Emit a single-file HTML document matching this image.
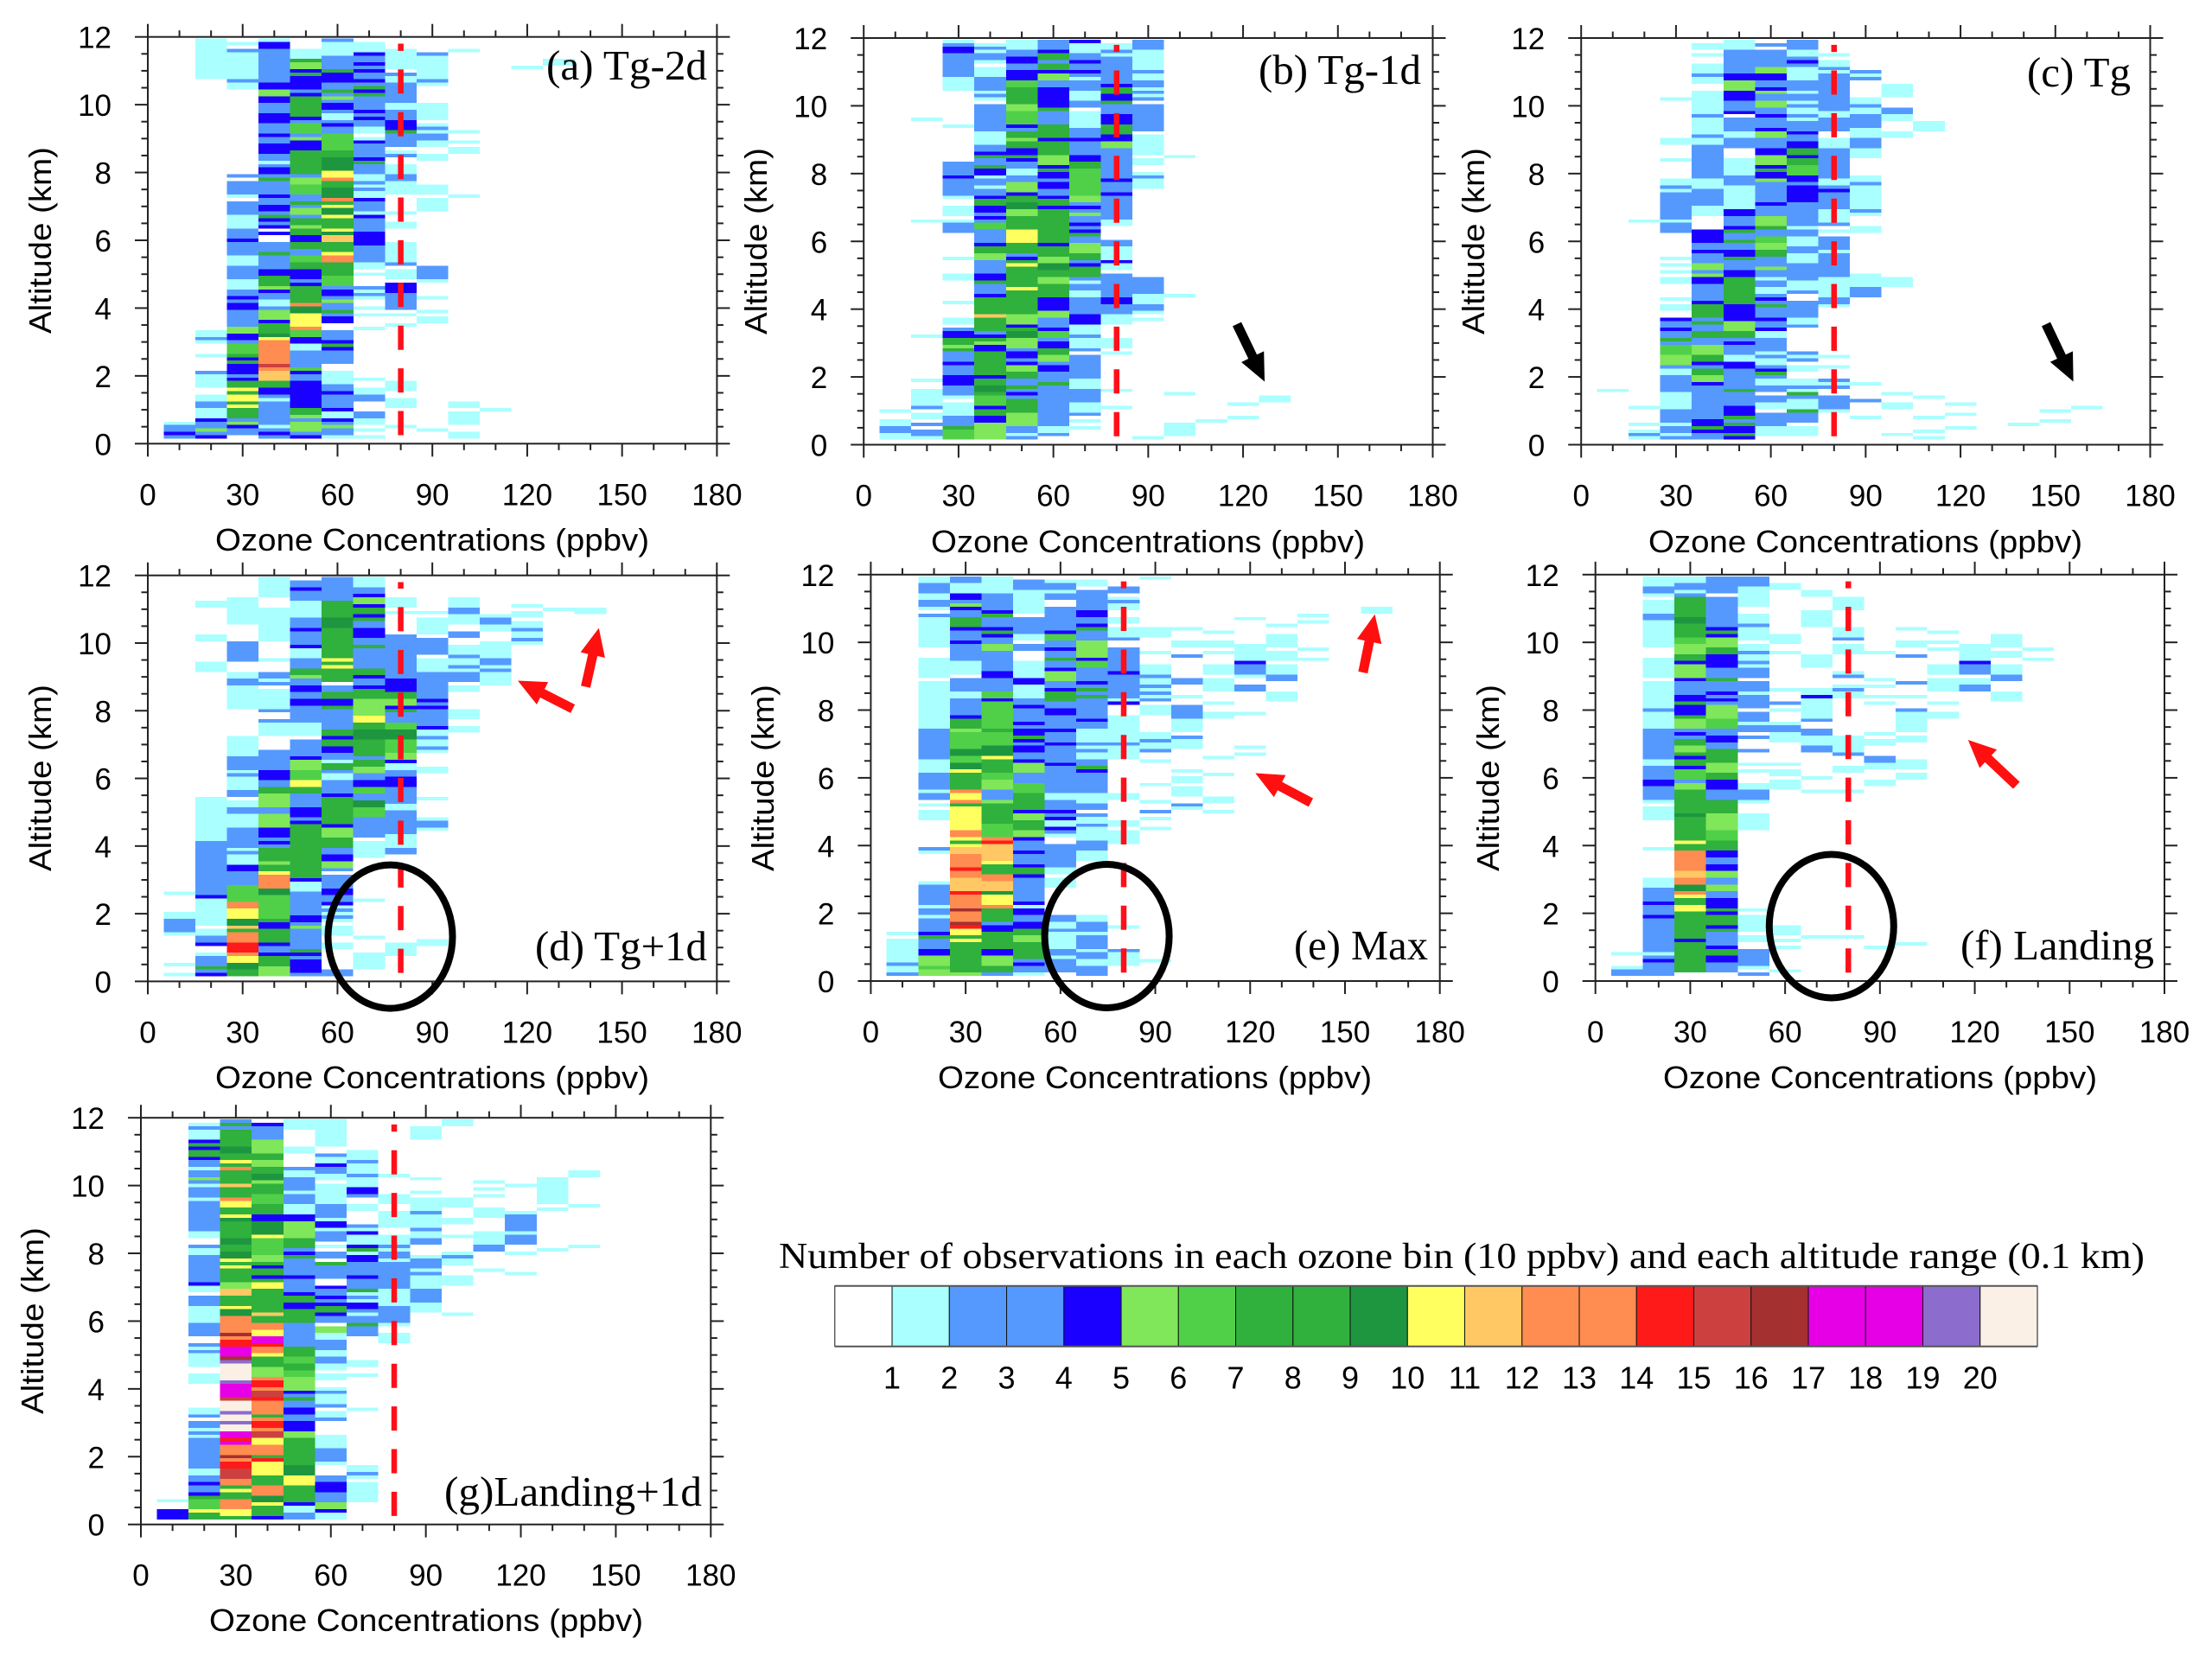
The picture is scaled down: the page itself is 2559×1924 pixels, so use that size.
<!DOCTYPE html>
<html lang="en">
<head>
<meta charset="utf-8">
<title>Ozone observations by altitude</title>
<style>
html,body{margin:0;padding:0;background:#fff;}
svg{display:block;}
.tick-label,.axis-title{font-family:"Liberation Sans",sans-serif;fill:#000;}
.serif{font-family:"Liberation Serif",serif;fill:#000;}
</style>
</head>
<body>
<svg id="figure" xmlns="http://www.w3.org/2000/svg" width="2559" height="1924" viewBox="0 0 2559 1924">
<rect width="2559" height="1924" fill="#fff"/>
<g id="panel-a"></g>
<g id="panel-b"></g>
<g id="panel-c"></g>
<g id="panel-d"></g>
<g id="panel-e"></g>
<g id="panel-f"></g>
<g id="panel-g"></g>

<g class="axis-title" font-size="36">
<text x="500" y="637" text-anchor="middle" textLength="502" lengthAdjust="spacingAndGlyphs">Ozone Concentrations (ppbv)</text>
<text x="1328" y="639" text-anchor="middle" textLength="502" lengthAdjust="spacingAndGlyphs">Ozone Concentrations (ppbv)</text>
<text x="2158" y="639" text-anchor="middle" textLength="502" lengthAdjust="spacingAndGlyphs">Ozone Concentrations (ppbv)</text>
<text x="500" y="1259" text-anchor="middle" textLength="502" lengthAdjust="spacingAndGlyphs">Ozone Concentrations (ppbv)</text>
<text x="1336" y="1259" text-anchor="middle" textLength="502" lengthAdjust="spacingAndGlyphs">Ozone Concentrations (ppbv)</text>
<text x="2175" y="1259" text-anchor="middle" textLength="502" lengthAdjust="spacingAndGlyphs">Ozone Concentrations (ppbv)</text>
<text x="493" y="1887" text-anchor="middle" textLength="502" lengthAdjust="spacingAndGlyphs">Ozone Concentrations (ppbv)</text>
<text transform="translate(59,278) rotate(-90)" text-anchor="middle" textLength="216" lengthAdjust="spacingAndGlyphs">Altitude (km)</text>
<text transform="translate(887,279) rotate(-90)" text-anchor="middle" textLength="216" lengthAdjust="spacingAndGlyphs">Altitude (km)</text>
<text transform="translate(1717,279) rotate(-90)" text-anchor="middle" textLength="216" lengthAdjust="spacingAndGlyphs">Altitude (km)</text>
<text transform="translate(59,900) rotate(-90)" text-anchor="middle" textLength="216" lengthAdjust="spacingAndGlyphs">Altitude (km)</text>
<text transform="translate(895,900) rotate(-90)" text-anchor="middle" textLength="216" lengthAdjust="spacingAndGlyphs">Altitude (km)</text>
<text transform="translate(1734,900) rotate(-90)" text-anchor="middle" textLength="216" lengthAdjust="spacingAndGlyphs">Altitude (km)</text>
<text transform="translate(50,1528) rotate(-90)" text-anchor="middle" textLength="216" lengthAdjust="spacingAndGlyphs">Altitude (km)</text>
</g>

<g class="serif" font-size="49">
<text x="632" y="92" textLength="186" lengthAdjust="spacingAndGlyphs">(a) Tg-2d</text>
<text x="1456" y="97" textLength="188" lengthAdjust="spacingAndGlyphs">(b) Tg-1d</text>
<text x="2345" y="100" textLength="120" lengthAdjust="spacingAndGlyphs">(c) Tg</text>
<text x="619" y="1111" textLength="199" lengthAdjust="spacingAndGlyphs">(d) Tg+1d</text>
<text x="1497" y="1110" textLength="155" lengthAdjust="spacingAndGlyphs">(e) Max</text>
<text x="2268" y="1110" textLength="224" lengthAdjust="spacingAndGlyphs">(f) Landing</text>
<text x="514" y="1742" textLength="298" lengthAdjust="spacingAndGlyphs">(g)Landing+1d</text>
</g>

<g fill="none" stroke="#000" stroke-width="8">
<ellipse cx="451.5" cy="1083.6" rx="72" ry="83"/>
<ellipse cx="1280.6" cy="1083" rx="72" ry="83"/>
<ellipse cx="2118.8" cy="1071.5" rx="72" ry="83"/>
</g>
<g id="arrows"></g>

<g id="legend">
<text class="serif" x="901" y="1467" font-size="42" textLength="1580" lengthAdjust="spacingAndGlyphs">Number of observations in each ozone bin (10 ppbv) and each altitude range (0.1 km)</text>
</g>
</svg>

<script>
/* Heatmap data: each column is [topAlt, count, alt, count, alt, ... bottomAlt], altitude km top-down; count per 0.1 km bin */
const a10=[.7,1,.6,2,.4,4,.3,2,.2];
const a20=[12,1,10.8,0,3.4,1,3.2,2,3.1,1,3.0,0,2.7,1,2.6,0,2.2,2,2.1,1,1.7,0,1.5,1,1.3,2,1.1,1,.8,4,.7,2,.5,5,.4,2,.3,4,.2];
const a30=[11.9,1,11.8,0,11.7,2,11.6,1,10.8,2,10.7,1,10.5,0,8.0,2,7.9,0,7.8,2,7.4,1,7.3,0,7.2,2,6.8,1,6.4,2,6.1,4,6.0,2,5.6,1,5.3,2,4.9,1,4.6,2,4.4,4,4.3,2,4.2,4,4.0,2,3.5,5,3.3,4,3.1,2,3.0,6,2.7,7,2.6,4,2.5,7,2.4,4,2.1,2,2.0,4,1.9,7,1.7,10,1.6,7,1.5,10,1.3,7,1.2,10,1.1,7,.8,2,.7,5,.6,4,.5,2,.3];
const a40=[12,1,11.9,4,11.7,2,10.7,4,10.5,5,10.3,4,10.1,2,9.8,4,9.5,2,9.2,4,9.1,2,8.9,4,8.6,2,8.4,1,8.3,2,8.2,4,8.0,2,7.9,7,7.8,2,7.4,4,7.3,2,7.1,4,6.9,2,6.8,7,6.7,4,6.6,2,6.5,4,6.4,0,6.3,4,6.2,0,6.0,2,5.7,7,5.6,2,5.2,4,5.0,7,4.7,5,4.6,4,4.5,2,4.3,1,4.1,2,4.0,5,3.7,4,3.6,7,3.3,9,3.2,10,3.1,12,2.9,13,2.4,15,2.3,13,2.2,11,1.9,7,1.7,4,1.5,2,1.4,1,1.3,2,.6,1,.5,2,.4,4,.3,2,.2];
const a50=[11.7,1,11.4,7,11.3,5,11.1,4,11.0,7,10.9,4,10.5,2,10.4,4,10.3,7,9.7,4,9.6,2,9.5,6,9.2,2,9.1,5,9.0,4,8.7,7,8.0,2,7.9,5,7.7,6,7.4,2,7.2,7,7.1,2,7.0,5,6.8,2,6.7,7,6.5,5,6.4,7,6.2,4,6.0,7,5.8,2,5.6,6,5.4,7,5.2,4,4.9,2,4.8,4,4.7,7,4.2,12,4.1,9,3.9,10,3.5,13,3.4,6,3.2,4,3.0,1,2.8,2,2.3,6,2.2,4,2.1,2,1.9,4,1.1,7,.9,5,.8,2,.7,5,.4,2,.3,4,.2];
const a60=[12,2,11.9,1,11.5,2,11.1,7,11.0,4,10.7,2,10.5,7,10.4,2,10.3,5,10.2,2,10.1,4,9.9,2,9.8,1,9.6,2,9.5,4,9.4,2,9.2,6,8.7,7,8.5,9,8.1,10,7.9,12,7.8,7,7.6,9,7.3,13,7.2,7,7.1,10,7.0,9,6.8,10,6.7,7,6.4,10,6.3,9,6.2,11,6.0,7,5.7,10,5.6,13,5.4,7,5.0,6,4.7,2,4.6,4,4.4,2,4.3,5,4.2,2,4.0,7,3.9,2,3.8,4,3.6,0,3.4,2,3.1,4,3.0,7,2.9,4,2.8,2,2.4,0,2.2,1,1.8,2,1.6,4,1.5,2,1.1,4,1.0,1,.8,4,.7,2,.6,5,.5,2,.3,1,.2];
const a70=[11.9,1,11.6,4,11.5,2,11.3,4,11.2,2,11.1,4,11.0,2,10.8,4,10.7,2,10.6,7,10.5,4,10.4,7,10.3,2,9.9,4,9.8,2,9.7,4,9.6,2,9.4,1,9.2,0,9.1,1,9.0,4,8.9,2,8.5,4,8.4,7,8.3,2,8.0,1,7.8,2,7.7,1,7.6,2,7.5,1,7.3,4,7.2,2,6.9,1,6.8,4,6.7,2,6.3,4,5.9,2,5.4,1,5.2,0,5.1,1,5.0,0,4.7,2,4.6,1,4.5,2,4.4,1,4.3,0,4.1,1,4.0,0,3.9,1,3.8,0,3.5,1,3.4,0,2.0,1,1.9,0,1.7,1,1.5,2,1.3,0,1.0,2,.8,1,.6,0,.5,1,.4,0,.3,1,.2];
const a80=[11.7,1,11.1,0,11.0,2,10.9,1,10.7,2,10.1,1,9.9,2,9.6,4,9.3,7,9.2,2,8.8,0,8.7,1,8.6,2,8.5,0,8.3,1,8.0,2,7.8,1,7.4,0,6.9,1,6.8,0,6.6,1,6.4,0,6.0,1,5.6,1,5.4,2,5.3,0,5.2,1,4.9,0,4.8,4,4.5,2,4.0,0,3.9,1,3.8,0,3.6,1,3.5,0,1.9,1,1.6,0,1.4,1,1.1,0,.6,1,.5];
const a90=[11.6,2,11.5,1,10.8,2,10.7,1,10.6,0,10.1,1,9.6,0,9.5,1,9.4,2,9.3,1,9.2,2,9.0,1,8.8,0,8.6,1,8.4,0,7.7,1,7.4,0,7.3,1,6.9,0,5.3,2,4.9,1,4.8,0,4.4,1,4.3,0,4.0,1,3.9,0,3.8,1,3.6,0,.5,1,.4];
const a100=[11.7,1,11.6,0,9.3,1,9.2,0,9.0,1,8.9,0,8.8,1,8.6,0,7.4,1,7.3,0,1.3,1,1.1,0,1.0,1,.6,0,.4,1,.2];
const a110=[1.1,1,1.0];
const a120=[11.2,1,11.1];
const a130=[11.4,1,11.2];

const b10=[1.1,1,1.0,0,.8,1,.6,2,.4,1,.2];
const b20=[9.7,1,9.6,0,6.7,1,6.6,0,3.3,1,3.2,0,2.0,1,1.9,0,1.7,1,1.2,2,1.1,0,1.0,1,.8,0,.7,2,.6,0,.5,2,.3,1,.2];
const b30=[12,1,11.9,2,11.8,4,11.6,2,10.9,1,10.5,0,9.5,1,9.4,0,8.4,2,8.0,4,7.9,2,7.4,1,7.3,0,7.1,1,6.8,0,6.7,1,6.6,2,6.3,0,5.6,1,5.5,0,5.1,1,4.9,0,4.3,1,4.2,0,3.8,1,3.6,0,3.5,2,3.4,4,3.2,7,3.0,5,2.9,7,2.8,2,2.5,4,2.4,2,2.1,4,1.8,2,1.5,1,1.4,0,1.3,1,.9,2,.6,7,.5,6,.2];
const b40=[11.9,1,11.8,2,11.7,1,11.6,2,11.4,1,11.3,0,11.2,1,10.9,2,10.5,1,10.4,2,10.3,1,10.2,0,10.1,2,9.3,1,8.9,2,8.7,4,8.6,7,8.5,2,8.3,7,8.2,4,8.0,1,7.9,2,7.7,1,7.6,2,7.4,4,7.3,7,7.1,4,6.9,2,6.8,4,6.7,2,6.6,6,6.4,2,6.0,4,5.9,7,5.7,5,5.5,2,5.1,4,4.9,7,4.8,2,4.5,4,4.4,7,3.9,11,3.8,7,3.4,2,3.3,4,3.2,7,3.1,5,3.0,4,2.8,7,2.1,4,2.0,7,1.8,9,1.6,7,1.5,6,1.2,4,1.1,7,.9,4,.7,5,.2];
const b50=[12,1,11.7,2,11.5,4,11.3,2,11.1,4,10.8,6,10.6,7,10.1,5,9.9,6,9.5,4,9.4,2,9.3,7,9.1,5,9.0,7,8.8,4,8.6,7,8.5,4,8.4,2,8.2,1,8.0,2,7.8,5,7.5,4,7.4,7,7.2,9,7.0,5,6.8,7,6.4,10,6.0,7,5.7,2,5.6,4,5.5,7,5.4,10,5.3,7,4.7,10,4.6,7,3.9,5,3.6,4,3.5,7,3.4,9,3.2,5,2.9,2,2.8,4,2.6,2,2.5,4,2.4,5,2.2,7,2.0,2,1.8,7,1.7,2,1.6,4,1.5,2,1.4,7,1.0,5,.6,2,.4,1,.3,2,.2];
const b60=[12,2,11.7,4,11.6,7,11.4,2,11.3,7,11.1,4,11.0,5,10.8,2,10.6,4,10.0,7,9.9,2,9.5,7,9.1,4,9.0,7,8.6,5,8.3,4,8.2,7,8.1,4,7.9,2,7.8,4,7.6,2,7.4,4,7.3,7,7.1,4,7.0,7,6.0,4,5.9,7,5.6,5,5.4,9,5.2,7,5.0,5,4.8,7,4.4,4,4.0,5,3.8,2,3.5,4,3.4,6,3.2,2,3.1,4,2.9,7,2.7,5,2.5,2,2.4,4,2.2,2,1.9,7,1.8,2,.6,1,.4,2,.3];
const b70=[12,4,11.9,1,11.6,2,11.4,4,11.3,2,11.1,4,11.0,2,10.9,1,10.8,2,10.5,1,10.2,2,10.0,0,9.9,1,9.4,2,9.1,4,9.0,2,8.6,4,8.4,7,8.2,6,7.4,5,7.2,2,7.1,4,7.0,2,6.9,5,6.8,2,6.6,4,6.5,2,6.4,4,6.3,7,6.2,2,6.0,5,5.7,7,5.5,2,5.4,4,5.3,7,5.0,2,4.9,1,4.8,2,4.6,1,4.4,2,3.9,4,3.6,1,3.3,2,3.2,1,2.9,2,2.8,0,2.7,2,2.0,1,1.7,2,1.3,1,1.0,2,.9,0,.8,1,.7,0,.6,1,.5];
const b80=[11.9,1,11.7,2,11.6,1,11.5,2,10.7,4,10.6,7,10.4,4,10.2,7,10.1,2,9.8,4,9.5,7,9.2,4,9.0,5,8.8,2,7.9,4,7.8,2,7.5,4,7.4,2,6.7,1,6.5,0,6.1,2,5.9,1,5.5,4,5.4,1,5.2,0,5.1,2,4.4,4,4.2,2,3.9,1,3.6,0,3.2,1,2.9,0,2.8,1,2.7,0,1.7,1,1.6,0,1.2,1,1.1];
const b90=[12,2,11.7,1,11.1,2,11.0,1,10.8,2,10.6,1,10.5,2,10.4,1,10.3,2,10.2,0,10.1,2,9.3,0,9.2,1,8.6,0,8.5,1,8.3,0,8.1,1,8.0,2,7.9,1,7.6,0,5.0,2,4.5,1,4.2,2,4.0,1,3.9,0,3.8,1,3.7,0,.3,1,.2];
const b100=[8.6,1,8.5,0,4.5,1,4.4,0,1.6,1,1.5,0,.7,1,.3];
const b110=[.8,1,.7];
const b120=[1.3,1,1.2,0,.9,1,.8];
const b130=[1.5,1,1.3];

const c10=[1.7,1,1.6];
const c20=[6.7,1,6.6,0,1.2,1,1.1,0,.7,1,.6,0,.5,1,.4,2,.3,1,.2];
const c30=[10.3,1,10.2,0,9.1,1,8.9,0,8.5,1,8.4,0,7.9,1,7.7,2,7.6,1,7.5,2,6.7,1,6.6,2,6.3,0,5.6,1,5.5,0,5.4,1,5.3,0,5.2,1,5.1,0,5.0,1,4.8,0,4.4,1,4.3,0,4.2,1,4.0,0,3.8,4,3.7,2,3.5,4,3.4,2,3.2,7,3.1,2,3.0,6,2.7,5,2.4,2,2.3,1,2.1,2,1.6,1,1.1,2,.7,1,.6,2,.4,1,.3,2,.2];
const c40=[11.9,1,11.7,0,11.6,1,11.5,0,11.3,1,11.0,2,10.9,1,10.7,0,10.5,1,9.8,2,9.7,1,9.2,2,9.1,1,8.9,2,7.9,1,7.6,2,7.1,1,6.8,0,6.4,4,6.0,2,5.8,4,5.7,2,5.4,5,5.2,2,5.1,5,5.0,4,4.8,2,4.3,4,4.2,7,3.8,2,3.7,7,3.6,2,3.4,7,3.2,2,3.0,5,2.7,7,2.5,4,2.4,2,2.3,7,2.1,5,1.9,4,1.8,2,.8,4,.6,7,.5,4,.4,2,.2];
const c50=[12,1,11.7,2,11.0,4,10.8,5,10.5,4,10.2,2,9.9,4,9.8,0,9.7,2,9.3,1,9.1,2,8.8,0,8.5,1,8.0,2,7.7,1,7.0,4,6.8,2,6.5,4,6.4,7,6.3,2,6.1,7,6.0,2,5.8,4,5.6,7,5.5,2,5.2,4,5.0,7,4.2,4,3.7,5,3.4,7,3.2,2,3.1,4,3.0,2,2.7,1,2.5,4,2.3,2,1.7,7,1.6,2,1.2,4,.9,7,.8,2,.7,7,.6,4,.4,7,.3,4,.2];
const c60=[11.9,2,11.8,0,11.7,2,11.2,5,11.0,4,10.8,2,10.6,4,10.5,5,10.4,2,10.2,5,10.0,2,9.8,4,9.7,2,9.4,4,9.3,5,9.1,2,8.8,4,8.6,5,8.3,4,8.2,7,8.1,4,7.9,5,7.8,2,7.2,4,7.1,2,6.8,5,6.5,7,6.4,2,6.2,6,6.0,5,5.8,7,5.6,2,5.3,5,5.2,2,5.0,1,4.9,2,4.7,1,4.5,2,4.4,4,4.3,2,4.2,7,4.1,2,3.8,4,3.7,2,3.5,4,3.4,1,3.2,2,2.8,1,2.7,2,2.6,1,2.4,2,2.3,4,2.2,7,2.1,2,2.0,1,1.8,2,1.6,0,1.5,2,1.3,1,1.1,0,1.0,2,.6,1,.3];
const c70=[12,2,11.7,1,11.5,2,11.4,4,11.3,2,11.2,1,10.8,2,10.5,1,10.4,2,10.2,1,10.1,2,10.0,1,9.8,2,9.7,1,9.6,2,9.3,4,9.2,2,9.0,4,8.8,7,8.6,4,8.5,7,8.3,6,8.0,4,7.8,2,7.7,4,7.2,2,6.5,1,6.4,2,6.2,1,5.9,2,5.7,1,5.4,2,4.9,1,4.6,2,4.5,0,4.3,2,3.8,1,3.6,2,3.5,0,2.8,2,2.7,1,2.6,2,2.5,0,2.4,1,2.2,0,2.0,1,1.8,2,1.7,1,1.6,7,1.5,2,1.4,1,1.1,7,1.0,2,.7,0,.6,1,.3];
const c80=[11.6,1,11.5,0,11.4,1,11.2,2,11.1,1,11.0,2,9.9,1,9.7,2,9.3,0,9.1,1,8.8,2,7.9,1,7.7,2,7.6,4,7.5,2,7.0,1,6.6,2,6.5,0,6.4,1,6.3,0,6.2,2,5.8,1,5.7,2,5.0,1,4.4,2,4.2,1,4.1,0,2.7,1,2.6,0,2.4,1,2.3,0,2.0,2,1.9,1,1.8,2,1.7,0,1.5,2,1.1,1,1.0];
const c90=[11.1,2,11.0,1,10.9,2,10.8,0,10.3,1,10.1,2,10.0,1,9.8,2,9.4,1,9.1,2,8.8,1,8.5,0,8.0,1,7.8,2,7.7,1,7.0,2,6.9,1,6.8,0,6.5,1,6.3,0,5.1,1,4.7,2,4.4,0,1.9,1,1.8,0,1.4,2,1.3,0,.9,1,.8];
const c100=[10.7,1,10.3,0,10.0,2,9.8,1,9.6,0,9.3,1,9.1,0,5.0,1,4.7,0,1.6,1,1.5,0,1.3,1,1.1,0,.4,1,.3];
const c110=[9.6,1,9.3,0,1.5,1,1.4,0,.9,1,.8,0,.5,1,.4,0,.3,1,.2];
const c120=[1.3,1,1.2,0,1.0,1,.9,0,.6,1,.5];
const c140=[.7,1,.6];
const c150=[1.1,1,1.0,0,.8,1,.7];
const c160=[1.2,1,1.1];

const d10=[2.7,1,2.6,0,2.1,1,1.9,2,1.5,1,1.4,0,.6,1,.5,0,.3,1,.2];
const d20=[11.3,1,11.1,0,10.3,1,10.1,0,9.5,1,9.2,0,5.5,1,4.2,2,2.6,4,2.5,1,1.7,0,1.6,1,1.4,2,1.2,4,1.1,0,.9,1,.8,2,.5,7,.4,2,.3,4,.2];
const d30=[11.4,1,10.6,0,10.1,2,9.5,0,9.2,1,9.0,2,8.8,1,8.1,0,7.3,1,6.7,2,6.3,1,6.2,2,6.1,1,5.7,2,5.5,0,5.4,1,5.2,2,5.0,1,4.6,2,4.0,1,3.9,2,3.8,1,3.5,4,3.3,2,2.9,6,2.4,13,2.2,10,1.9,9,1.7,11,1.6,7,1.5,13,1.2,14,.9,13,.8,10,.6,9,.4,7,.2];
const d40=[12,1,11.4,0,11.1,1,10.1,0,9.6,1,9.5,0,9.2,2,9.0,1,8.9,2,8.8,0,8.7,1,8.1,2,8.0,0,7.8,2,7.7,1,7.3,0,6.9,2,6.3,4,6.0,2,5.8,7,5.6,5,5.2,2,5.0,5,4.6,4,4.3,2,4.2,4,4.1,2,4.0,7,3.6,5,3.5,7,3.3,10,3.2,13,2.8,9,2.6,6,1.9,7,1.8,4,1.6,7,1.2,4,1.1,2,.9,4,.8,7,.5,5,.2];
const d50=[11.9,2,11.7,4,11.6,2,11.3,1,10.8,2,10.5,4,10.4,2,10.0,4,9.9,1,9.6,2,9.3,7,9.1,5,9.0,2,8.8,4,8.6,2,8.4,4,8.2,2,7.7,1,7.3,0,7.2,2,6.7,4,6.6,5,6.3,6,6.0,10,5.8,7,5.6,2,5.2,4,4.9,2,4.8,4,4.7,7,3.1,4,3.0,1,2.7,2,2.0,4,1.8,2,1.7,5,1.6,2,1.0,7,.9,4,.8,2,.7,4,.3,2,.2];
const d60=[12,2,11.3,7,10.8,9,10.5,7,9.6,10,9.5,7,9.4,10,9.3,7,8.9,0,8.8,2,8.6,7,8.4,4,8.2,7,8.1,2,7.5,7,7.3,4,7.2,7,7.0,4,6.8,2,6.6,1,6.5,7,6.3,2,6.2,1,6.0,2,5.6,4,5.5,7,4.7,4,4.6,5,4.3,7,4.0,2,3.8,4,3.6,5,3.4,2,3.3,0,3.2,2,2.8,4,2.6,2,2.4,4,2.3,1,2.2,2,2.1,1,2.0,2,1.9,1,1.8,0,1.7,1,1.4,0,1.2,1,1.0,0,.4,2,.2];
const d70=[12,1,11.7,2,11.5,4,11.4,5,11.2,4,11.1,7,10.9,4,10.8,7,10.7,2,10.5,4,10.2,2,10.0,7,9.9,2,9.3,7,9.1,4,9.0,2,8.8,4,8.7,7,8.4,5,7.9,10,7.7,7,7.5,9,7.2,7,6.7,2,6.6,7,6.4,5,6.2,2,6.0,4,5.8,6,5.6,2,5.4,9,5.2,6,4.9,2,4.3,0,4.2,1,3.7,0,2.5,1,2.4,0,1.4,1,1.3,0,.9,1,.4];
const d80=[11.4,1,11.1,0,11.0,1,10.9,0,10.3,2,9.0,4,8.6,7,8.4,5,8.2,4,8.1,7,8.0,2,7.7,6,7.5,9,7.2,6,6.8,5,6.6,4,6.5,1,6.3,2,6.1,4,5.8,2,5.3,1,5.1,2,4.4,1,4.0,2,3.8,0,1.2,1,.8];
const d90=[11.0,1,10.9,0,10.8,1,10.3,0,10.2,2,9.7,0,9.6,1,9.2,2,8.4,4,8.3,2,8.2,4,8.1,2,7.6,4,7.5,1,7.3,2,7.2,1,7.0,2,6.9,1,6.8,0,6.4,1,6.2,0,5.5,1,5.4,0,4.9,1,4.8,2,4.6,1,4.5,0,1.3,1,1.1];
const d100=[11.4,1,11.1,2,10.9,1,10.6,0,10.4,2,10.2,0,10.0,1,9.7,2,9.6,1,9.4,2,9.3,1,9.2,2,8.9,0,8.8,1,8.6,0,8.1,1,7.8,0,7.6,1,7.4];
const d110=[10.9,1,10.8,2,10.6,1,10.4,0,10.1,1,9.6,2,9.4,1,9.3,2,9.2,1,8.8];
const d120=[11.2,1,11.1,0,11.0,1,10.8,0,10.7,1,10.5,2,10.4,1,10.2,2,10.1,1,10.0];
const d130=[11.1,1,11.0];
const d140=[11.1,1,10.9];

const e10=[1.5,1,1.4,0,1.3,1,.6,2,.5,1,.3,2,.2];
const e20=[12,1,11.8,2,11.5,1,11.3,2,11.1,1,11.0,0,10.9,2,10.8,1,9.9,0,9.6,1,9.0,0,8.9,1,7.5,2,6.6,1,6.2,2,5.7,1,5.6,2,5.4,0,5.3,1,5.2,0,5.1,1,4.8,0,4.0,2,3.9,1,3.8,0,3.0,1,2.9,2,2.3,1,2.2,2,2.0,1,1.9,2,1.5,4,1.4,7,1.3,2,1.0,4,.8,5,.5,6,.4,5,.2];
const e30=[12,2,11.8,1,11.5,4,11.3,2,11.2,5,11.1,4,11.0,2,10.8,7,10.5,4,10.4,2,10.1,4,10.0,2,9.5,1,9.1,0,9.0,2,8.6,1,8.4,2,7.9,4,7.8,7,7.5,5,7.4,6,6.9,9,6.7,6,6.5,9,6.3,10,6.2,7,5.7,13,5.6,10,5.4,13,5.3,7,5.2,10,4.5,13,4.3,10,4.2,7,4.1,10,4.0,11,3.8,13,3.4,14,3.3,13,3.1,11,2.7,14,2.6,13,2.2,16,2.1,13,1.8,16,1.7,14,1.6,10,1.4,7,1.3,10,1.2,7,.3,5,.2];
const e40=[12,1,11.5,2,11.0,4,10.9,7,10.8,2,10.5,4,10.4,7,10.3,4,10.2,2,10.0,5,9.8,2,9.2,4,9.0,2,8.6,6,8.4,4,8.3,6,7.5,7,7.4,6,7.0,9,6.7,10,6.6,7,6.2,6,6.0,5,5.7,2,5.4,5,5.3,7,4.7,6,4.3,13,4.2,14,4.1,11,3.6,10,3.5,7,3.2,13,3.0,11,2.7,9,2.6,10,2.3,13,2.2,7,1.8,2,1.7,4,1.5,7,1.0,4,.8,5,.5,7,.3,2,.2];
const e50=[11.9,2,11.6,1,10.9,0,10.8,2,10.3,1,10.1,0,10.0,2,9.8,0,9.5,1,9.0,4,8.8,1,8.4,2,8.2,4,8.1,2,7.7,4,7.6,2,7.5,4,7.3,7,7.2,4,7.1,2,7.0,4,6.8,2,6.6,4,6.5,5,6.2,2,5.9,6,5.6,7,5.1,4,5.0,5,4.8,7,4.5,5,4.3,4,4.2,2,3.9,4,3.8,2,3.5,4,3.4,7,3.2,4,3.1,2,2.4,4,2.3,1,2.2,4,2.0,2,1.8,4,1.6,7,1.4,5,1.2,7,.7,2,.6,4,.5,2,.3,1,.2];
const e60=[11.9,1,11.8,2,11.6,1,11.5,2,11.3,0,11.1,2,10.4,4,10.3,6,10.1,2,9.9,4,9.8,2,9.6,7,9.5,2,9.3,4,9.2,5,8.9,2,8.7,4,8.6,7,8.3,2,8.1,4,7.9,2,7.5,4,7.4,2,7.1,4,7.0,2,6.5,4,6.4,2,5.6,1,5.4,2,5.1,4,5.0,2,4.9,4,4.8,1,4.6,4,4.5,2,4.4,1,4.3,0,4.1,2,3.4,1,3.2,0,3.1,1,2.8,0,2.0,2,1.8,1,1.6,2,1.5,1,1.0,2,.8,1,.7,2,.3];
const e70=[11.9,1,11.7,0,11.6,2,11.0,4,10.8,2,10.6,4,10.5,7,10.4,2,10.1,5,9.6,4,9.5,6,9.3,2,8.9,4,8.8,2,8.7,7,8.6,2,8.5,7,8.4,2,7.8,4,7.7,2,7.5,1,7.1,2,7.0,1,6.9,2,6.8,1,6.6,2,6.4,7,6.3,4,6.2,2,5.6,1,5.3,2,5.1,0,5.0,2,4.9,1,4.7,2,4.6,1,4.2,2,3.9,1,3.6,0,2.0,1,1.8,2,1.5,1,1.4,2,1.0,1,.9,2,.7,1,.5,2,.2];
const e80=[11.7,2,11.5,0,11.4,1,11.3,2,11.2,1,11.0,0,10.8,1,10.6,0,10.5,1,10.2,2,10.1,0,9.9,2,9.2,4,9.1,2,8.4,1,8.3,4,8.2,0,7.9,1,7.1,2,7.0,1,6.6,0,5.6,1,5.4,0,4.8,1,4.6,0,4.5,1,4.1,0,1.7,1,1.6,0,1.0,2,.9,1,.5];
const e90=[12.0,1,11.9,0,10.5,1,10.2,0,9.8,1,9.7,0,9.4,1,9.1,2,9.0,1,8.8,2,8.7,1,8.6,2,8.5,1,8.4,2,8.3,0,8.2,1,7.9,0,7.4,1,7.2,2,7.1,1,6.9,2,6.8,0,6.6,1,6.5,0,5.9,1,5.8,0,5.4,1,5.3,0,5.1,2,5.0,0,4.9,1,4.8,0,4.6,1,4.5,0,.7,1,.6];
const e100=[10.5,1,10.4,0,10.1,1,9.9,0,9.7,2,9.6,0,9.0,2,8.8,0,8.5,1,8.4,0,8.2,2,7.8,1,7.4,0,7.3,2,7.2,1,6.9,0,6.3,1,6.2,0,6.1,1,5.9,0,5.8,1,5.5,0,5.3,2,5.2,1,5.1];
const e110=[10.4,1,10.3,0,10.1,1,9.9,0,9.8,1,9.7,0,9.4,1,9.1,0,9.0,1,8.6,0,8.3,1,8.2,0,8.0,1,7.8,0,6.7,1,6.6,0,6.2,1,6.1,0,5.5,1,5.3,0,5.1,1,5.0];
const e120=[10.8,1,10.7,0,10.0,1,9.5,4,9.4,2,9.1,1,9.0,0,8.8,2,8.6,0,8.0,1,7.9,0,7.0,1,6.9,0,6.8,1,6.7];
const e130=[10.6,1,10.5,0,10.3,1,9.9,0,9.8,1,9.5,0,9.4,1,9.1,2,8.9,0,8.6,1,8.3];
const e140=[10.9,1,10.8,0,10.7,1,10.6,0,9.9,1,9.8,0,9.6,1,9.5];
const e160=[11.1,1,10.9];

const f10=[.9,1,.8,0,.5,1,.4,2,.2];
const f20=[12,1,11.7,2,11.5,1,11.4,0,11.3,1,10.9,2,10.7,1,9.9,0,9.6,1,9.0,0,8.9,1,8.1,2,8.0,1,7.5,2,6.6,1,6.4,2,6.0,4,5.8,2,5.4,1,5.3,0,5.2,1,4.8,0,4.0,1,3.9,0,3.1,1,2.8,2,2.4,4,2.3,2,2.0,4,1.9,2,.9,1,.8,2,.7,4,.6,2,.2];
const f30=[12,1,11.8,2,11.6,1,11.5,2,11.4,7,10.8,9,10.6,7,10.2,6,10.0,5,9.7,7,9.5,4,9.4,5,9.0,4,8.9,2,8.5,4,8.3,7,8.2,4,7.9,7,7.8,5,7.5,2,7.4,4,7.3,2,7.2,7,7.0,5,6.8,7,6.7,4,6.6,7,6.4,4,6.3,6,6.0,2,5.9,5,5.7,7,5.0,9,4.9,7,4.2,10,4.1,7,3.9,13,3.3,11,3.1,13,2.9,9,2.7,13,2.6,10,2.5,7,2.3,10,2.1,7,1.3,4,1.2,7,.3];
const f40=[12,2,11.5,0,11.4,2,10.5,4,10.4,7,10.3,4,10.2,5,9.9,7,9.7,4,9.3,2,9.0,7,8.9,2,8.6,4,8.5,2,8.4,4,8.3,2,8.2,5,7.8,6,7.5,2,7.3,4,7.1,2,6.9,7,6.5,5,6.2,7,6.0,4,5.7,2,5.4,7,5.0,5,4.5,6,4.2,7,3.9,4,3.7,2,3.5,4,3.3,5,3.1,2,2.9,5,2.7,2,2.5,4,2.2,7,2.1,4,2.0,7,1.7,4,1.6,7,1.5,2,1.1,4,1.0,7,.8,4,.6,2,.3];
const f50=[12,2,11.7,1,11.1,0,10.9,1,10.6,2,10.5,1,10.1,0,10.0,1,9.8,2,9.7,1,9.5,2,9.4,1,9.3,2,9.0,0,8.9,2,8.6,1,8.5,2,8.1,0,8.0,2,7.7,1,7.6,2,7.4,0,7.3,2,7.2,0,6.9,2,6.8,0,6.5,1,6.4,0,6.3,1,6.2,0,5.9,1,5.7,2,5.4,1,5.3,0,5.0,1,4.5,0,2.2,1,2.1,0,2.0,1,1.5,0,1.4,1,1.2,0,1.0,2,.5,1,.4,0,.3,2,.2];
const f60=[11.8,1,11.6,0,10.3,1,10.0,0,9.8,1,9.7,0,8.7,1,8.6,0,8.3,2,8.2,0,8.1,1,8.0,0,7.7,1,7.6,2,7.4,1,7.1,0,6.5,1,6.4,0,6.3,1,6.1,0,6.0,1,5.7,0,1.7,1,1.4,0,1.3,1,1.2,0,1.1,1,1.0,0,.4,1,.3];
const f70=[11.6,1,11.4,0,11.0,1,10.5,0,9.7,1,9.3,0,8.7,1,8.5,4,8.4,1,7.8,2,7.7,0,7.5,2,7.3,1,7.0,2,6.8,0,6.1,1,6.0,0,5.7,1,5.6,0,1.4,1,1.3];
const f80=[11.4,1,11.0,0,10.5,1,10.2,2,10.1,0,10.0,1,9.7,0,9.2,1,9.1,2,9.0,0,8.8,1,8.7,2,8.6,1,8.4,0,7.3,1,6.8,2,6.7,0,6.4,1,6.2,0,5.7,1,5.6,0,1.4,1,1.3];
const f90=[9.8,1,9.7,0,9.0,1,8.9,0,8.8,1,8.7,0,8.5,1,8.4,0,8.3,1,8.2,0,7.4,1,7.3,0,7.2,1,7.0,0,6.7,2,6.5,1,6.3,0,6.0,1,5.8,0,1.1,1,1.0];
const f100=[10.5,1,10.4,0,10.1,1,9.9,0,9.7,2,9.6,0,8.9,2,8.8,0,8.5,1,8.4,0,8.1,2,8.0,1,7.4,0,7.3,1,7.1,0,6.6,1,6.3,0,6.2,1,6.0,0,1.2,1,1.1];
const f110=[10.4,1,10.3,0,10.1,1,10.0,0,9.9,1,9.8,0,9.4,1,9.1,0,9.0,1,8.6,0,8.3,1,8.2,0,8.0,1,7.8];
const f120=[10.0,1,9.5,4,9.4,2,9.1,0,9.0,1,8.8,2,8.6];
const f130=[10.3,1,9.9,0,9.8,1,9.6,0,9.4,1,9.1,2,8.9,0,8.6,1,8.3];
const f140=[9.9,1,9.8,0,9.6,1,9.5];

const g10=[.8,1,.7,0,.5,4,.2];
const g20=[11.9,1,11.8,2,11.7,1,11.4,4,11.3,7,11.2,4,11.1,7,10.9,4,10.8,2,10.6,1,10.5,2,10.3,5,10.2,2,10.1,1,10.0,2,9.7,1,9.6,2,8.7,1,8.5,0,8.3,2,8.2,1,8.0,2,7.2,4,7.1,1,6.9,0,6.8,2,6.5,1,6.0,2,5.6,0,5.4,2,5.3,1,5.2,2,5.1,1,4.7,0,4.5,1,4.2,0,3.5,1,3.3,2,3.2,0,3.1,2,2.9,1,2.8,2,2.7,1,2.6,2,1.7,1,1.5,2,1.3,4,1.2,2,1.0,4,.9,7,.8,6,.5,10,.4,7,.2];
const g30=[12,2,11.9,7,11.8,2,11.7,7,11.2,9,11.0,7,10.8,10,10.7,7,10.6,13,10.5,7,10.1,11,10.0,7,9.7,13,9.6,10,9.4,7,9.2,10,9.1,9,9.0,7,8.5,9,8.3,7,8.1,9,7.9,10,7.8,7,7.7,10,7.6,7,7.2,5,7.0,11,6.8,7,6.5,10,6.4,9,6.2,13,5.7,16,5.6,13,5.5,14,5.3,17,5.0,16,4.9,19,4.8,20,4.3,19,4.2,18,3.8,15,3.7,20,3.4,19,3.3,20,3.1,19,3.0,20,2.8,17,2.6,14,2.5,17,2.4,13,2.1,16,2.0,13,1.9,14,1.7,15,1.4,13,1.2,7,1.1,10,1.0,7,.8,13,.5,10,.3,7,.2];
const g40=[11.9,4,11.8,2,11.4,5,11.0,7,10.8,5,10.6,7,10.4,9,10.2,5,10.1,7,9.8,6,9.5,7,9.2,4,9.0,9,8.6,10,8.5,6,8.0,5,7.8,7,7.7,4,7.6,7,7.4,4,7.3,7,7.2,10,7.0,7,6.3,11,6.2,7,6.0,13,5.8,10,5.6,17,5.4,14,5.3,13,5.1,10,5.0,7,4.7,5,4.4,13,4.3,14,4.1,13,4.0,15,3.8,14,3.7,13,3.3,7,3.2,13,3.1,14,2.9,13,2.8,15,2.6,10,2.4,13,2.1,7,2.0,14,1.9,10,1.5,7,1.2,13,.9,9,.7,10,.6,7,.3,4,.2];
const g50=[12,1,11.7,0,11.2,1,11.0,0,10.6,2,10.5,1,10.3,2,9.9,1,9.8,2,9.5,1,9.2,4,9.0,5,8.5,7,8.2,2,8.1,4,8.0,7,7.9,2,7.4,4,7.3,2,6.9,4,6.8,7,6.6,4,6.4,7,6.0,2,5.3,7,5.0,6,4.8,7,4.6,6,4.4,5,4.0,4,3.9,2,3.8,7,3.7,2,3.5,4,3.3,2,3.1,4,2.8,5,2.6,7,1.8,9,1.5,10,1.2,7,.7,4,.6,1,.4,2,.2];
const g60=[12,1,11.2,0,11.0,2,10.9,1,10.7,4,10.6,2,10.4,1,10.2,0,10.1,1,9.5,2,9.1,1,9.0,4,8.8,1,8.7,2,8.4,0,8.3,1,8.2,0,8.1,2,7.9,0,7.8,7,7.7,2,7.3,0,7.1,4,7.0,2,6.8,4,6.7,2,6.6,4,6.5,7,6.3,4,6.2,2,6.0,0,5.9,5,5.7,1,5.5,2,5.2,1,5.0,2,4.8,1,4.6,0,4.5,1,4.3,0,4.1,1,4.0,2,3.9,1,3.6,2,3.5,0,3.4,1,3.2,2,3.1,0,2.7,1,2.3,2,1.9,1,1.8,0,1.5,2,1.3,4,1.0,2,.7,5,.5,4,.4,1,.2];
const g70=[11.1,1,10.8,2,10.7,1,10.4,2,10.3,1,10.0,4,9.8,2,9.7,0,9.5,1,9.3,0,8.9,2,8.8,1,8.7,4,8.6,1,8.3,4,8.2,7,8.1,1,8.0,4,7.8,2,7.4,4,7.3,2,7.0,7,6.9,1,6.8,2,6.7,1,6.6,4,6.4,2,6.3,1,6.2,2,6.0,7,5.9,2,5.6,0,4.9,1,4.7,0,4.5,1,4.4,0,3.5,1,3.4,0,1.8,1,1.6,2,1.5,1,1.4,0,1.3,1,.7];
const g80=[10.4,1,10.3,0,9.8,1,9.5,0,9.3,1,8.8,0,8.6,1,8.3,2,8.2,1,8.1,2,7.9,1,7.8,2,7.0,1,6.5,2,6.0,1,5.9,0,5.7,1,5.4];
const g90=[11.8,1,11.4,0,10.3,1,10.2,0,9.9,1,9.8,0,9.7,1,9.3,2,9.2,1,8.8,2,8.7,1,8.5,2,8.3,0,8.0,1,7.9,2,7.6,1,7.5,2,7.4,1,7.0,2,6.6,1,6.3];
const g100=[12,1,11.8,0,9.7,1,9.4,0,9.1,1,8.9,0,8.6,1,8.5,0,8.1,1,8.0,2,7.9,1,7.7,0,7.4,1,7.1,0,6.3,1,6.2];
const g110=[10.2,1,10.1,0,10.0,1,9.9,0,9.8,1,9.7,0,9.4,1,9.1,0,8.7,1,8.3,2,8.1,0,7.6,1,7.5];
const g120=[10.1,1,10.0,0,9.3,1,9.2,2,8.7,1,8.6,2,8.3,0,8.1,1,8.0,0,7.5,1,7.4];
const g130=[10.3,1,9.5,0,9.4,1,9.3,0,8.2,1,8.1];
const g140=[10.5,1,10.3,0,9.5,1,9.4,0,8.3,1,8.2];

const seriesA=[[10,a10],[20,a20],[30,a30],[40,a40],[50,a50],[60,a60],[70,a70],[80,a80],[90,a90],[100,a100],[110,a110],[120,a120],[130,a130]];
const seriesB=[[10,b10],[20,b20],[30,b30],[40,b40],[50,b50],[60,b60],[70,b70],[80,b80],[90,b90],[100,b100],[110,b110],[120,b120],[130,b130]];
const seriesC=[[10,c10],[20,c20],[30,c30],[40,c40],[50,c50],[60,c60],[70,c70],[80,c80],[90,c90],[100,c100],[110,c110],[120,c120],[140,c140],[150,c150],[160,c160]];
const seriesD=[[10,d10],[20,d20],[30,d30],[40,d40],[50,d50],[60,d60],[70,d70],[80,d80],[90,d90],[100,d100],[110,d110],[120,d120],[130,d130],[140,d140]];
const seriesE=[[10,e10],[20,e20],[30,e30],[40,e40],[50,e50],[60,e60],[70,e70],[80,e80],[90,e90],[100,e100],[110,e110],[120,e120],[130,e130],[140,e140],[160,e160]];
const seriesF=[[10,f10],[20,f20],[30,f30],[40,f40],[50,f50],[60,f60],[70,f70],[80,f80],[90,f90],[100,f100],[110,f110],[120,f120],[130,f130],[140,f140]];
const seriesG=[[10,g10],[20,g20],[30,g30],[40,g40],[50,g50],[60,g60],[70,g70],[80,g80],[90,g90],[100,g100],[110,g110],[120,g120],[130,g130],[140,g140]];

const xTickLabels=[0,30,60,90,120,150,180];
const yTickLabels=[0,2,4,6,8,10,12];
const thresholdOzone=80;
const thresholdBottomKm=0.25;
const thresholdTopKm=11.8;
const legendLabels=[1,2,3,4,5,6,7,8,9,10,11,12,13,14,15,16,17,18,19,20];
const countColors=["#ffffff","#aaffff","#5599ff","#5599ff","#1a00ff","#80e65a","#50d048","#30b03c","#30b03c","#1e9640","#ffff60","#ffc864","#ff8c50","#ff8c50","#ff1a1a","#cc4040","#a53030","#e600e6","#e600e6","#8c6ccc","#faf0e6"];

const NS="http://www.w3.org/2000/svg";
const X_MAX=180, Y_MAX=12, BIN_HALF=5, EDGE_SHIFT=0.05;

function make(parent,tag){
  const n=document.createElementNS(NS,tag);
  parent.appendChild(n);
  return n;
}
function setAll(n,attrs){ for(const k in attrs){ n.setAttribute(k,attrs[k]); } return n; }

function drawPanel(id,layout,series){
  const root=document.getElementById(id);
  const xs=v=>layout.x0+v*(layout.x1-layout.x0)/X_MAX;
  const ys=a=>layout.y0-a*(layout.y0-layout.y1)/Y_MAX;

  for(const [bin,runs] of series){
    for(let i=0;i+2<runs.length;i+=2){
      const top=runs[i], count=runs[i+1], bottom=runs[i+2];
      if(!count) continue;
      const r=make(root,'rect');
      
      
      setAll(r,{x:xs(bin-BIN_HALF),width:xs(bin+BIN_HALF)-xs(bin-BIN_HALF),y:ys(top-EDGE_SHIFT),height:ys(bottom-EDGE_SHIFT)-ys(top-EDGE_SHIFT),fill:countColors[count],'shape-rendering':'crispEdges'});
    }
  }

  const frame=make(root,'rect');
  
  
  setAll(frame,{x:layout.x0,y:layout.y1,width:layout.x1-layout.x0,height:layout.y0-layout.y1,fill:'none',stroke:'#222','stroke-width':2});

  function tick(x1,y1,x2,y2,name){
    const t=make(root,'line');
    
    
    setAll(t,{x1:x1,y1:y1,x2:x2,y2:y2,stroke:'#222','stroke-width':2});
  }
  for(let v=0;v<=X_MAX;v+=10){
    const major=xTickLabels.includes(v), len=major?15:7.5;
    tick(xs(v),layout.y0,xs(v),layout.y0+len,'x-tick');
    tick(xs(v),layout.y1,xs(v),layout.y1-len,'x-tick-top');
  }
  for(let a=0;a<=Y_MAX;a+=0.5){
    const major=yTickLabels.includes(a), len=major?15:7.5;
    tick(layout.x0,ys(a),layout.x0-len,ys(a),'y-tick');
    tick(layout.x1,ys(a),layout.x1+len,ys(a),'y-tick-right');
  }
  for(const v of xTickLabels){
    const t=make(root,'text');
    
    
    setAll(t,{class:'tick-label',x:xs(v),y:layout.y0+71,'text-anchor':'middle','font-size':35});
    t.textContent=v;
  }
  for(const a of yTickLabels){
    const t=make(root,'text');
    
    
    setAll(t,{class:'tick-label',x:layout.x0-42,y:ys(a)+13,'text-anchor':'end','font-size':35});
    t.textContent=a;
  }

  const line=make(root,'line');
  
  
  setAll(line,{x1:xs(thresholdOzone),x2:xs(thresholdOzone),y1:ys(thresholdBottomKm),y2:ys(thresholdTopKm),stroke:'#ff0f1a','stroke-width':6.5,'stroke-dasharray':'28 21.4'});
}

drawPanel('panel-a',{x0:171,x1:829.4,y1:42.7,y0:513.3},seriesA);
drawPanel('panel-b',{x0:999.2,x1:1657.5,y1:44,y0:514.5},seriesB);
drawPanel('panel-c',{x0:1829.2,x1:2487.5,y1:44,y0:514.5},seriesC);
drawPanel('panel-d',{x0:171,x1:829.3,y1:665.7,y0:1135.4},seriesD);
drawPanel('panel-e',{x0:1007.4,x1:1665.7,y1:664.8,y0:1135},seriesE);
drawPanel('panel-f',{x0:1845.7,x1:2504,y1:664.8,y0:1135},seriesF);
drawPanel('panel-g',{x0:163,x1:822.3,y1:1293.2,y0:1763.7},seriesG);

/* annotation arrows */
function drawArrow(x1,y1,x2,y2,color){
  const group=document.getElementById('arrows');
  const L=Math.hypot(x2-x1,y2-y1), dx=(x2-x1)/L, dy=(y2-y1)/L, nx=-dy, ny=dx;
  const sw=5.5, hw=14.5, hl=32;
  const bx=x2-dx*hl, by=y2-dy*hl;
  const pts=[[x1+nx*sw,y1+ny*sw],[bx+nx*sw,by+ny*sw],[bx+nx*hw,by+ny*hw],[x2,y2],[bx-nx*hw,by-ny*hw],[bx-nx*sw,by-ny*sw],[x1-nx*sw,y1-ny*sw]];
  const p=make(group,'polygon');
  
  
  p.setAttribute('points',pts.map(q=>q[0].toFixed(1)+','+q[1].toFixed(1)).join(' '));
  p.setAttribute('fill',color);
}
drawArrow(1431,375,1463,441.5,'#000');
drawArrow(2367,375,2398.6,441.5,'#000');
drawArrow(662.6,820,599,787.5,'#ff0f0f');
drawArrow(677.5,794.6,692.8,726.6,'#ff0f0f');
drawArrow(1516.5,928.5,1452.3,894.5,'#ff0f0f');
drawArrow(1576.8,778,1590.5,710.8,'#ff0f0f');
drawArrow(2332.8,908.6,2276.8,856,'#ff0f0f');

/* legend */
(function(){
  const g=document.getElementById('legend');
  const left=965.8, right=2357, top=1487.7, bottom=1557.7;
  const w=(right-left)/countColors.length;
  countColors.forEach(function(c,i){
    const r=make(g,'rect');
    
    
    setAll(r,{x:left+i*w,y:top,width:w,height:bottom-top,fill:c,stroke:'#111','stroke-width':1});
  });
  [top,bottom].forEach(function(y){
    const l=make(g,'line');
    
    
    setAll(l,{x1:left,x2:right,y1:y,y2:y,stroke:'#555','stroke-width':2});
  });
  legendLabels.forEach(function(v,i){
    const t=make(g,'text');
    
    
    setAll(t,{class:'tick-label',x:left+(i+1)*w,y:1606.7,'text-anchor':'middle','font-size':36});
    t.textContent=v;
  });
})();
</script>
</body>
</html>
